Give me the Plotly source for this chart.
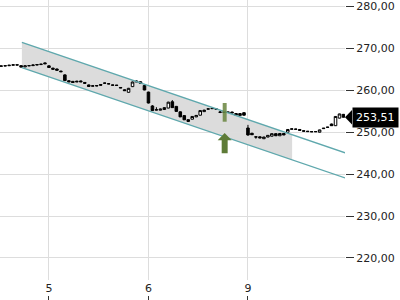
import numpy as np
import plotly.graph_objects as go

# ---------------- data ----------------
candle_idx = list(range(87))
opens = [265.65, 265.72, 265.78, 265.90, 266.00, 265.80, 265.50, 265.75, 265.80, 265.95,
         266.05, 266.45, 265.75, 265.20, 265.00, 264.50, 263.60, 262.20, 262.05, 262.10,
         262.15, 261.80, 261.20, 260.90, 260.95, 261.30, 261.60, 261.50, 261.20, 261.15,
         260.60, 260.05, 259.45, 260.80, 262.15, 261.95, 261.05, 259.50, 256.20, 255.30,
         255.20, 255.35, 255.70, 257.20, 256.10, 254.80, 253.90, 252.50, 253.05, 253.60,
         254.00, 254.85, 255.45, 255.55, 255.50, 254.75, 254.70, 254.75, 254.75, 254.40,
         253.90, 254.60, 250.95, 249.70, 248.85, 248.85, 248.40, 248.80, 249.00, 249.60,
         249.10, 249.65, 249.95, 250.65, 250.70, 250.60, 250.30, 250.20, 250.10, 250.05,
         249.95, 250.80, 251.10, 251.90, 251.50, 253.30, 254.20]
highs = [265.78, 265.85, 265.95, 266.05, 266.08, 265.88, 265.80, 265.85, 266.00, 266.10,
         266.20, 266.60, 265.90, 265.30, 265.10, 264.60, 263.75, 262.30, 262.15, 262.20,
         262.25, 261.90, 261.30, 261.10, 261.15, 261.40, 261.75, 261.55, 261.25, 261.20,
         260.65, 260.15, 260.50, 262.00, 262.30, 262.05, 261.15, 259.60, 256.40, 255.90,
         255.55, 255.90, 257.20, 257.60, 256.20, 254.90, 254.00, 253.00, 253.75, 254.05,
         255.20, 255.30, 255.55, 255.65, 255.55, 255.00, 254.80, 254.80, 254.85, 254.45,
         254.45, 254.70, 251.70, 249.80, 248.90, 248.95, 248.85, 249.25, 249.65, 249.70,
         249.70, 249.75, 250.65, 250.80, 250.75, 250.65, 250.35, 250.25, 250.15, 250.15,
         250.55, 250.95, 251.20, 252.00, 253.75, 254.35, 254.30]
lows = [265.60, 265.68, 265.74, 265.85, 265.90, 265.40, 265.45, 265.70, 265.75, 265.90,
        266.00, 266.20, 265.30, 264.90, 264.65, 264.30, 262.20, 261.90, 261.75, 261.90,
        261.90, 261.55, 260.80, 260.85, 260.90, 261.10, 261.55, 261.40, 261.10, 261.05,
        260.45, 259.80, 259.40, 260.70, 261.90, 261.55, 259.95, 256.80, 255.00, 255.20,
        255.15, 255.30, 255.65, 255.75, 254.85, 253.55, 252.85, 252.40, 253.00, 253.55,
        253.95, 254.80, 255.40, 255.50, 255.40, 254.50, 254.65, 254.65, 254.50, 253.95,
        253.85, 253.95, 249.10, 249.30, 248.40, 248.55, 248.35, 248.75, 248.95, 249.05,
        249.05, 249.25, 249.90, 250.60, 250.60, 250.35, 250.15, 250.05, 250.00, 250.00,
        249.90, 250.75, 251.05, 251.45, 251.45, 253.25, 253.45]
closes = [265.72, 265.78, 265.90, 266.00, 265.95, 265.45, 265.75, 265.80, 265.95, 266.05,
          266.15, 266.25, 265.35, 264.95, 264.70, 264.35, 262.25, 261.95, 261.80, 261.95,
          261.95, 261.60, 260.85, 261.00, 261.05, 261.15, 261.65, 261.45, 261.15, 261.10,
          260.50, 259.85, 260.40, 261.90, 261.95, 261.60, 260.00, 256.90, 255.10, 255.25,
          255.45, 255.80, 257.10, 255.80, 254.90, 253.60, 252.90, 252.95, 253.70, 253.95,
          255.10, 255.20, 255.50, 255.60, 255.45, 254.70, 254.75, 254.70, 254.55, 254.00,
          254.40, 254.00, 249.30, 249.35, 248.80, 248.60, 248.80, 249.20, 249.60, 249.10,
          249.65, 249.30, 250.60, 250.75, 250.65, 250.40, 250.20, 250.10, 250.05, 250.10,
          250.50, 250.90, 251.15, 251.50, 253.70, 254.30, 253.51]

day_tick_idx = [12, 37, 62]
day_tick_text = ["5", "6", "9"]
price_ticks = [220, 230, 240, 250, 260, 270, 280]

# trend channel (candle index, price)
channel_line_idx = [5.2, 86.4]
channel_upper = [271.35, 245.05]
channel_lower = [265.30, 239.05]
channel_fill_end_idx = 73.1

# signal marker
signal_idx = 56.15
signal_bar = [252.45, 256.90]
signal_arrow = [249.76, 244.93]   # tip, tail

last_price = 253.51

# ---------------- figure ----------------
X_RANGE = [-0.3, 86.38]
Y_RANGE = [214.76, 281.43]

fig = go.Figure()

# channel fill as a shape below all traces
fx = [channel_line_idx[0], channel_fill_end_idx]
up_f = np.interp(fx, channel_line_idx, channel_upper)
lo_f = np.interp(fx, channel_line_idx, channel_lower)
fig.add_shape(type="path", xref="x", yref="y", layer="below",
              path=(f"M {fx[0]},{up_f[0]} L {fx[1]},{up_f[1]} "
                    f"L {fx[1]},{lo_f[1]} L {fx[0]},{lo_f[0]} Z"),
              fillcolor="#dcdcdc", line=dict(width=0))

fig.add_trace(go.Candlestick(
    x=candle_idx, open=opens, high=highs, low=lows, close=closes,
    increasing=dict(line=dict(color="black", width=1), fillcolor="white"),
    decreasing=dict(line=dict(color="black", width=1), fillcolor="black"),
    whiskerwidth=0, hoverinfo="skip", showlegend=False))

for arr in (channel_upper, channel_lower):
    fig.add_trace(go.Scatter(
        x=channel_line_idx, y=arr, mode="lines",
        line=dict(color="#5fa8ad", width=1.3),
        hoverinfo="skip", showlegend=False))

# signal bar
fig.add_trace(go.Scatter(
    x=[signal_idx - 0.5, signal_idx + 0.5, signal_idx + 0.5, signal_idx - 0.5, signal_idx - 0.5],
    y=[signal_bar[0], signal_bar[0], signal_bar[1], signal_bar[1], signal_bar[0]],
    fill="toself", fillcolor="rgba(104,133,62,0.85)", line=dict(width=0),
    mode="lines", hoverinfo="skip", showlegend=False))

# signal arrow
tip, tail = signal_arrow
head_h, head_w, shaft_w = 1.7, 1.75, 0.75
ax = [signal_idx, signal_idx + head_w, signal_idx + shaft_w, signal_idx + shaft_w,
      signal_idx - shaft_w, signal_idx - shaft_w, signal_idx - head_w, signal_idx]
ay = [tip, tip - head_h, tip - head_h, tail, tail, tip - head_h, tip - head_h, tip]
fig.add_trace(go.Scatter(
    x=ax, y=ay, fill="toself", fillcolor="#5e7b37", line=dict(width=0),
    mode="lines", hoverinfo="skip", showlegend=False))

# dummy trace for bottom tick axis
fig.add_trace(go.Scatter(x=[day_tick_idx[0]], y=[last_price], xaxis="x2",
                         mode="markers", marker=dict(opacity=0),
                         hoverinfo="skip", showlegend=False))

font = dict(family="DejaVu Sans", size=11, color="#222222")

fig.update_layout(
    width=400, height=300,
    margin=dict(l=0, r=55, t=0, b=0),
    paper_bgcolor="white", plot_bgcolor="white",
    separators=",.",
    font=font,
    boxgap=0.36, boxgroupgap=0,
    xaxis=dict(range=X_RANGE, tickvals=day_tick_idx, ticktext=day_tick_text,
               showgrid=True, gridcolor="#dddddd", gridwidth=1,
               ticks="", zeroline=False, showline=False,
               rangeslider=dict(visible=False), fixedrange=True,
               tickfont=font, anchor="y"),
    xaxis2=dict(range=X_RANGE, overlaying="x", anchor="free", position=0,
                side="bottom", tickvals=day_tick_idx, ticks="inside",
                ticklen=4, tickcolor="#333333", showticklabels=False,
                showgrid=False, zeroline=False, showline=False),
    yaxis=dict(range=Y_RANGE, domain=[20 / 300, 1], side="right",
               tickvals=price_ticks, tickformat=".2f",
               ticks="outside", ticklen=8, tickcolor="#333333",
               showgrid=True, gridcolor="#dddddd", gridwidth=1,
               zeroline=False, showline=False, tickfont=font,
               ticklabeloverflow="allow"),
)

# last price label
fig.add_annotation(x=1, xref="paper", y=last_price, yref="y", xanchor="left",
                   xshift=7, text="253,51", showarrow=False,
                   bgcolor="black", borderpad=3,
                   font=dict(family="DejaVu Sans", size=11, color="white"))
px_w = 345.0
fig.add_shape(type="path", xref="paper", yref="y",
              path=f"M 1,{last_price} L {352/px_w},{last_price + 1.75} "
                   f"L {352/px_w},{last_price - 1.75} Z",
              fillcolor="black", line=dict(width=0))

fig.write_html("out.html")
